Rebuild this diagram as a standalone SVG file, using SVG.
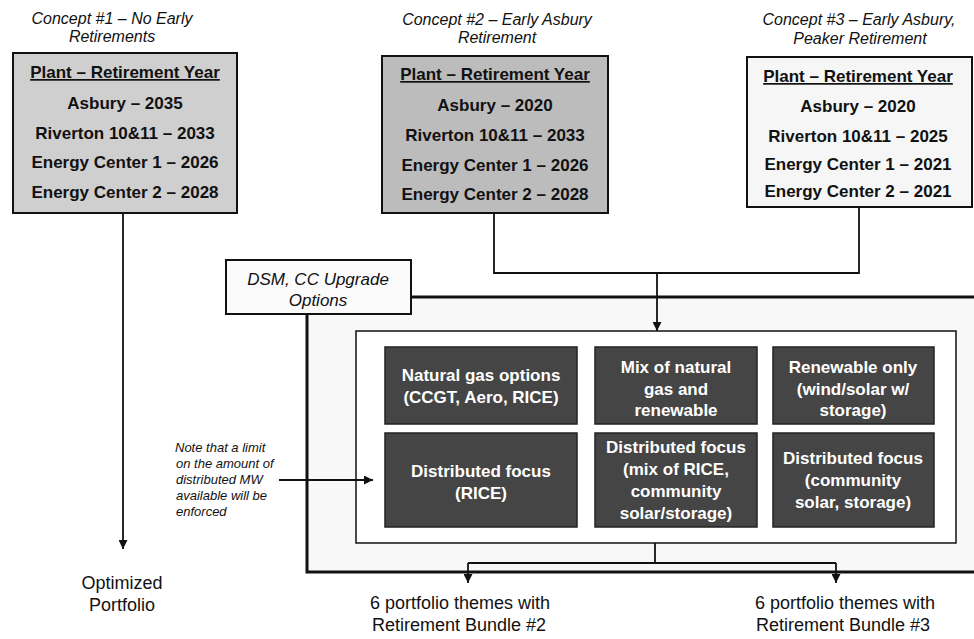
<svg xmlns="http://www.w3.org/2000/svg" width="974" height="639" viewBox="0 0 974 639">
<defs>
<style>
text{font-family:"Liberation Sans",Arial,sans-serif;fill:#111}
.title{font-style:italic;font-size:16px;text-anchor:middle}
.plant{font-weight:bold;font-size:17px;text-anchor:middle}
.ul{text-decoration:underline}
.opt{font-weight:bold;font-size:17px;text-anchor:middle;fill:#fff}
.note{font-style:italic;font-size:13px}
.out{font-size:18px;text-anchor:middle}
.box{stroke:#111;stroke-width:2}
.dark{fill:#454545;stroke:#222;stroke-width:1.5}
.conn{fill:none;stroke:#111;stroke-width:1.8}
</style>
<marker id="ah" viewBox="0 0 10 10" refX="10" refY="5" markerWidth="9" markerHeight="9" markerUnits="userSpaceOnUse" orient="auto">
<path d="M0,0 L10,5 L0,10 z" fill="#111"/>
</marker>
</defs>
<rect width="974" height="639" fill="#fff"/>

<g id="concept1">
<text class="title" x="112" y="24">Concept #1 – No Early</text>
<text class="title" x="112" y="42">Retirements</text>
<rect class="box" x="13" y="53" width="224" height="160" fill="#cfcfcf"/>
<text class="plant ul" x="125" y="78">Plant – Retirement Year</text>
<text class="plant" x="125" y="109">Asbury – 2035</text>
<text class="plant" x="125" y="139">Riverton 10&amp;11 – 2033</text>
<text class="plant" x="125" y="168">Energy Center 1 – 2026</text>
<text class="plant" x="125" y="198">Energy Center 2 – 2028</text>
</g>

<g id="concept2">
<text class="title" x="497" y="25">Concept #2 – Early Asbury</text>
<text class="title" x="497" y="43">Retirement</text>
<rect class="box" x="382" y="56" width="226" height="157" fill="#bcbcbc"/>
<text class="plant ul" x="495" y="80">Plant – Retirement Year</text>
<text class="plant" x="495" y="111">Asbury – 2020</text>
<text class="plant" x="495" y="141">Riverton 10&amp;11 – 2033</text>
<text class="plant" x="495" y="171">Energy Center 1 – 2026</text>
<text class="plant" x="495" y="200">Energy Center 2 – 2028</text>
</g>

<g id="concept3">
<text class="title" x="859" y="25">Concept #3 – Early Asbury,</text>
<text class="title" x="860" y="44">Peaker Retirement</text>
<rect class="box" x="747" y="57" width="225" height="150" fill="#f6f6f6"/>
<text class="plant ul" x="858" y="82">Plant – Retirement Year</text>
<text class="plant" x="858" y="112">Asbury – 2020</text>
<text class="plant" x="858" y="142">Riverton 10&amp;11 – 2025</text>
<text class="plant" x="858" y="170">Energy Center 1 – 2021</text>
<text class="plant" x="858" y="197">Energy Center 2 – 2021</text>
</g>

<g id="outer-frame">
<rect x="307" y="297" width="680" height="275" fill="#f8f8f8" stroke="#111" stroke-width="3"/>
</g>

<g id="dsm">
<rect class="box" x="226" y="260" width="185" height="54" fill="#fbfbfb"/>
<text class="title" x="318" y="285" style="font-size:17px">DSM, CC Upgrade</text>
<text class="title" x="318" y="306" style="font-size:17px">Options</text>
</g>

<g id="themes">
<rect x="356" y="331" width="600" height="212" fill="#fff" stroke="#111" stroke-width="1.5"/>
</g>

<g id="opt-gas">
<rect class="dark" x="385" y="347" width="192" height="77"/>
<text class="opt" x="481" y="381">Natural gas options</text>
<text class="opt" x="481" y="403">(CCGT, Aero, RICE)</text>
</g>
<g id="opt-mix">
<rect class="dark" x="595" y="347" width="162" height="77"/>
<text class="opt" x="676" y="373">Mix of natural</text>
<text class="opt" x="676" y="395">gas and</text>
<text class="opt" x="676" y="416">renewable</text>
</g>
<g id="opt-renew">
<rect class="dark" x="773" y="347" width="161" height="77"/>
<text class="opt" x="853" y="373">Renewable only</text>
<text class="opt" x="853" y="395">(wind/solar w/</text>
<text class="opt" x="853" y="416">storage)</text>
</g>
<g id="opt-dist-rice">
<rect class="dark" x="385" y="433" width="192" height="94"/>
<text class="opt" x="481" y="477">Distributed focus</text>
<text class="opt" x="481" y="499">(RICE)</text>
</g>
<g id="opt-dist-mix">
<rect class="dark" x="595" y="433" width="162" height="94"/>
<text class="opt" x="676" y="453">Distributed focus</text>
<text class="opt" x="676" y="475">(mix of RICE,</text>
<text class="opt" x="676" y="497">community</text>
<text class="opt" x="676" y="519">solar/storage)</text>
</g>
<g id="opt-dist-comm">
<rect class="dark" x="773" y="433" width="161" height="94"/>
<text class="opt" x="853" y="464">Distributed focus</text>
<text class="opt" x="853" y="486">(community</text>
<text class="opt" x="853" y="508">solar, storage)</text>
</g>

<g id="note">
<text class="note" x="175" y="452">Note that a limit</text>
<text class="note" x="176" y="468">on the amount of</text>
<text class="note" x="176" y="484">distributed MW</text>
<text class="note" x="176" y="500">available will be</text>
<text class="note" x="176" y="516">enforced</text>
</g>

<g id="out-optimized">
<text class="out" x="122" y="589">Optimized</text>
<text class="out" x="122" y="611">Portfolio</text>
</g>
<g id="out-bundle2">
<text class="out" x="460" y="609">6 portfolio themes with</text>
<text class="out" x="459" y="631">Retirement Bundle #2</text>
</g>
<g id="out-bundle3">
<text class="out" x="845" y="609">6 portfolio themes with</text>
<text class="out" x="843" y="631">Retirement Bundle #3</text>
</g>

<g id="connectors">
<path class="conn" d="M123,213 V549" marker-end="url(#ah)"/>
<path class="conn" d="M494,213 V273 H859 V207"/>
<path class="conn" d="M657,273 V331" marker-end="url(#ah)"/>
<path class="conn" d="M279,480 H373" stroke-width="1.2" marker-end="url(#ah)"/>
<path class="conn" d="M655,543 V563"/>
<path class="conn" d="M468,563 H836"/>
<path class="conn" d="M468,563 V583" marker-end="url(#ah)"/>
<path class="conn" d="M836,563 V583" marker-end="url(#ah)"/>
</g>
</svg>
